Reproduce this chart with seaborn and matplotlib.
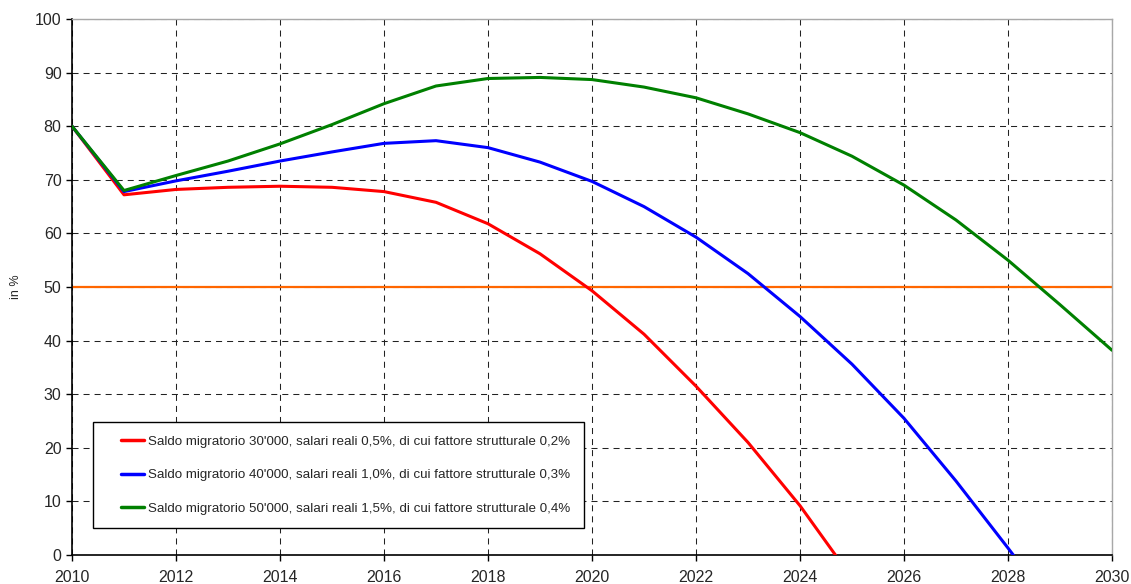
import matplotlib
matplotlib.use("Agg")
import matplotlib.pyplot as plt
from matplotlib.legend_handler import HandlerLine2D
import seaborn as sns
import pandas as pd
import numpy as np

years = list(range(2010, 2031))
red_years = list(range(2010, 2026))
red = [80, 67.2, 68.2, 68.6, 68.8, 68.6, 67.8, 65.8, 61.8, 56.2, 49.3, 41.2, 31.5, 21.0, 9.2, -4.3]
blue_years = list(range(2010, 2030))
blue = [80, 67.8, 69.8, 71.6, 73.5, 75.2, 76.8, 77.3, 76.0, 73.3, 69.7, 65.0, 59.3, 52.5, 44.5, 35.6, 25.5, 13.8, 1.3, -11.5]
green_years = years
green = [80, 68.0, 70.8, 73.5, 76.7, 80.3, 84.2, 87.5, 88.9, 89.1, 88.7, 87.3, 85.3, 82.3, 78.8, 74.4, 69.0, 62.5, 55.0, 46.7, 38.2]
labels = [
    "Saldo migratorio 30'000, salari reali 0,5%, di cui fattore strutturale 0,2%",
    "Saldo migratorio 40'000, salari reali 1,0%, di cui fattore strutturale 0,3%",
    "Saldo migratorio 50'000, salari reali 1,5%, di cui fattore strutturale 0,4%",
]
colors = ["#FF0000", "#0000FF", "#008000"]
threshold = 50

df = pd.concat([
    pd.DataFrame({"year": red_years, "value": red, "scenario": labels[0]}),
    pd.DataFrame({"year": blue_years, "value": blue, "scenario": labels[1]}),
    pd.DataFrame({"year": green_years, "value": green, "scenario": labels[2]}),
])

sns.set_style("white")
plt.rcParams["font.family"] = ["Liberation Sans", "DejaVu Sans"]

fig = plt.figure(figsize=(11.31, 5.84), dpi=100)
ax = fig.add_axes([72/1131, 1 - 555/584, (1112-72)/1131, (555-19)/584])

ax.axhline(threshold, color="#FF6600", lw=1.6, zorder=2)
sns.lineplot(data=df, x="year", y="value", hue="scenario", palette=colors,
             linewidth=2.2, ax=ax, legend=True, zorder=3)

ax.set_xlim(2010, 2030)
ax.set_ylim(0, 100)
ax.set_xticks(range(2010, 2031, 2))
ax.set_yticks(range(0, 101, 10))
ax.set_axisbelow(True)
ax.grid(True, color="#222222", linestyle=(0, (5.8, 4.8)), linewidth=0.75)
ax.set_xlabel("")
ax.set_ylabel("in %", fontsize=9)
ax.yaxis.set_label_coords(-0.048, 0.5)
ax.tick_params(axis="both", labelsize=11.5, length=4, width=1, direction="out",
               left=True, bottom=True, color="black")
ax.tick_params(axis="x", pad=6.5)
for s in ["top", "right"]:
    ax.spines[s].set_color("#A8A8A8")
    ax.spines[s].set_linewidth(1.0)
for s in ["left", "bottom"]:
    ax.spines[s].set_color("black")
    ax.spines[s].set_linewidth(1.2)


class OffsetLineHandler(HandlerLine2D):
    def get_xdata(self, legend, xdescent, ydescent, width, height, fontsize):
        x0 = -xdescent + width * 0.4
        x1 = -xdescent + width
        return np.array([x0, x1]), np.array([(x0 + x1) / 2])


handles, labs = ax.get_legend_handles_labels()
leg = ax.legend(handles, labs, loc="lower left", bbox_to_anchor=(0.02, 0.05), fontsize=9.6,
                frameon=True, fancybox=False, edgecolor="black", framealpha=1,
                handlelength=2.86, labelspacing=1.6, borderpad=1.0,
                borderaxespad=0, handletextpad=0.3,
                handler_map={h: OffsetLineHandler() for h in handles})
leg.get_frame().set_linewidth(1.0)
for h in leg.get_lines():
    h.set_linewidth(2.5)

fig.savefig("out.png", dpi=100)
